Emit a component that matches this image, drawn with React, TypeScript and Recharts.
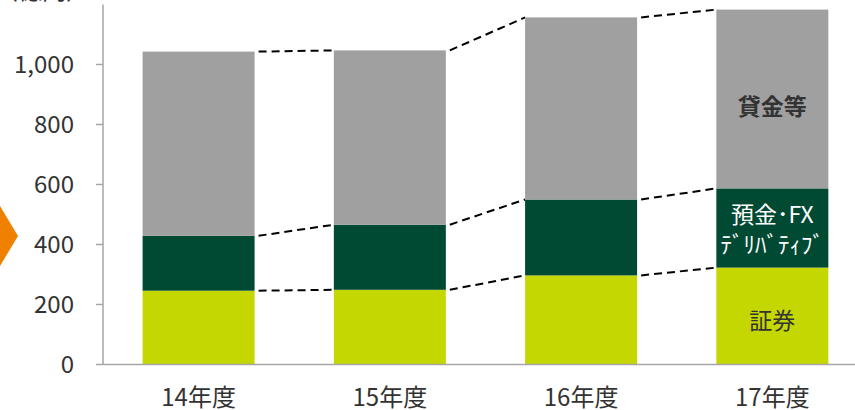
import { ComposedChart, Bar, XAxis, YAxis, LabelList } from 'recharts'

// 億円
const years = ['14年度', '15年度', '16年度', '17年度']
const securities = [246, 249, 297, 323]
const deposits = [183, 217, 253, 264]
const loans = [614, 581, 607, 596]
const yTicks = [0, 200, 400, 600, 800, 1000]

const data = years.map((year, i) => ({
  year,
  securities: securities[i],
  deposits: deposits[i],
  loans: loans[i],
}))

const cumSec = securities
const cumDep = securities.map((v, i) => v + deposits[i])
const cumLoan = cumDep.map((v, i) => v + loans[i])

const CHART_W = 868
const CHART_H = 410
const Y_W = 103
const GAP = 0.207
const BAND = (CHART_W - Y_W) / years.length

const FONT = '"Noto Sans CJK JP", "Noto Sans", sans-serif'
const AXIS = '#a6a6a6'

// bar segment + dashed connector to the same level on the next bar
const makeShape = (seg: number[], cum: number[]) => (props: any) => {
  const { x, y, width, height, index, fill } = props
  const ppu = height / seg[index]
  const next = index < cum.length - 1
  return (
    <g>
      <rect x={x} y={y} width={width} height={height} fill={fill} />
      {next && (
        <line
          x1={x + width + 4}
          y1={y}
          x2={x + BAND}
          y2={y + (cum[index] - cum[index + 1]) * ppu}
          stroke="#000"
          strokeWidth={2}
          strokeDasharray="8 5"
        />
      )}
    </g>
  )
}

const lastOnly = (lines: string[], color: string, bold: boolean, size: number, shift = 0) => (p: any) => {
  const { x, y, width, height, index } = p
  if (index !== years.length - 1) return null
  const cx = x + width / 2
  const cy = y + height / 2 + shift
  const lh = size * 1.3
  return (
    <g>
      {lines.map((t, k) => (
        <text
          key={k}
          x={cx}
          y={cy + (k - (lines.length - 1) / 2) * lh}
          textAnchor="middle"
          dominantBaseline="central"
          fill={color}
          fontSize={size}
          fontWeight={bold ? 700 : 400}
          fontFamily={FONT}
        >
          {t}
        </text>
      ))}
    </g>
  )
}

export default function App() {
  return (
    <div style={{ position: 'absolute', left: 0, top: 0, width: 855, height: 410, overflow: 'hidden', background: '#fff' }}>
      <div style={{ position: 'absolute', left: -6, top: -23, fontSize: 24, lineHeight: 1, fontFamily: FONT, color: '#333' }}>（億円）</div>
      <svg width={20} height={410} style={{ position: 'absolute', left: 0, top: 0 }}>
        <polygon points="-10,206 0,206 18,236 0,266 -10,266" fill="#f08000" />
      </svg>
      <ComposedChart
        width={CHART_W}
        height={CHART_H}
        data={data}
        margin={{ top: 4.5, right: 0, left: 0, bottom: 0 }}
        barCategoryGap={`${GAP * 100}%`}
      >
        <XAxis
          dataKey="year"
          height={45.5}
          axisLine={{ stroke: AXIS, strokeWidth: 1.5 }}
          tickLine={false}
          tickSize={0}
          tickMargin={24}
          tick={{ fill: '#333', fontSize: 24, fontFamily: FONT }}
        />
        <YAxis
          width={Y_W}
          domain={[0, 1200]}
          ticks={yTicks}
          interval={0}
          tickFormatter={(v: number) => v.toLocaleString('en-US')}
          axisLine={{ stroke: AXIS, strokeWidth: 1.5 }}
          tickLine={{ stroke: AXIS, strokeWidth: 1.5 }}
          tickSize={7}
          tickMargin={22}
          tick={{ fill: '#333', fontSize: 24, fontFamily: FONT }}
        />
        <Bar dataKey="securities" stackId="a" fill="#c5d700" isAnimationActive={false} shape={makeShape(securities, cumSec)}>
          <LabelList dataKey="securities" content={lastOnly(['証券'], '#333', false, 23, 3)} />
        </Bar>
        <Bar dataKey="deposits" stackId="a" fill="#004a34" isAnimationActive={false} shape={makeShape(deposits, cumDep)}>
          <LabelList dataKey="deposits" content={lastOnly(['預金･FX', 'ﾃﾞﾘﾊﾞﾃｨﾌﾞ'], '#fff', false, 23)} />
        </Bar>
        <Bar dataKey="loans" stackId="a" fill="#a0a0a0" isAnimationActive={false} shape={makeShape(loans, cumLoan)}>
          <LabelList dataKey="loans" content={lastOnly(['貸金等'], '#333', true, 23, 6)} />
        </Bar>
      </ComposedChart>
    </div>
  )
}
